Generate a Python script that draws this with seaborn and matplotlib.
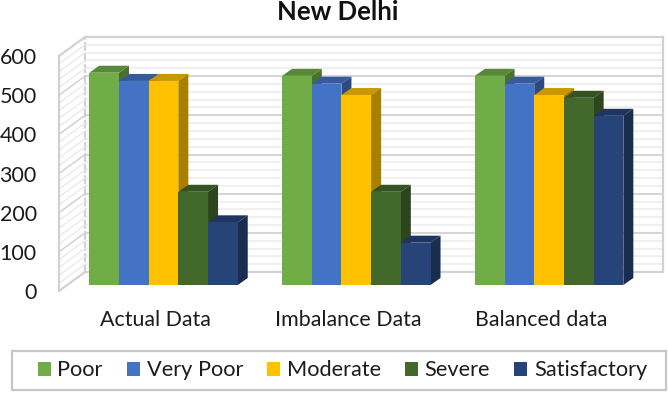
import matplotlib
matplotlib.use('Agg')
import matplotlib.pyplot as plt
import matplotlib.colors as mcolors
from matplotlib.patches import Polygon, Rectangle
from matplotlib.lines import Line2D
from matplotlib.transforms import IdentityTransform, ScaledTranslation
from matplotlib.ticker import MultipleLocator
import pandas as pd
import seaborn as sns

# Data
datasets = ['Actual Data', 'Imbalance Data', 'Balanced data']
classes = ['Poor', 'Very Poor', 'Moderate', 'Severe', 'Satisfactory']
poor = [542, 534, 534]
very_poor = [521, 514, 514]
moderate = [521, 485, 485]
severe = [238, 238, 478]
satisfactory = [160, 108, 432]
colors = ['#70AD47', '#4472C4', '#FFC000', '#43682B', '#264478']

rows = []
for name, vals in zip(classes, [poor, very_poor, moderate, severe, satisfactory]):
    for d, v in zip(datasets, vals):
        rows.append({'dataset': d, 'aqi': name, 'count': v})
df = pd.DataFrame(rows)

sns.set_theme(style='white')
plt.rcParams['font.family'] = ['Lato', 'DejaVu Sans']
text_col = '#1c1c1c'
wall_col = '#d2d2d2'

W, H = 668, 395
fig = plt.figure(figsize=(W / 100, H / 100), dpi=100, facecolor='white')


def px_axes(left, top, right, bottom):
    return fig.add_axes([left / W, 1 - bottom / H, (right - left) / W, (bottom - top) / H])


# back wall of the fake 3D box
ax_back = px_axes(85, 37, 663, 272)
ax_back.set_xlim(0, 1)
ax_back.set_ylim(0, 600)
ax_back.yaxis.set_major_locator(MultipleLocator(100))
ax_back.yaxis.set_minor_locator(MultipleLocator(20))
ax_back.grid(True, which='major', axis='y', color=wall_col, lw=1.3)
ax_back.grid(True, which='minor', axis='y', color='#efefef', lw=1.3)
ax_back.set_axisbelow(True)
ax_back.tick_params(which='both', left=False, bottom=False, labelleft=False, labelbottom=False)
for s in ax_back.spines.values():
    s.set_color(wall_col)
    s.set_linewidth(1.6)
ax_back.spines['left'].set_linestyle((0, (3, 2)))

# left wall goes down and to the left of the back wall
wall_dx, wall_dy = 26, 19
for v in range(0, 601, 20):
    x0, y0 = ax_back.transData.transform((0, v))
    major = v % 100 == 0
    ends = v in (0, 600)
    fig.add_artist(Line2D([x0, x0 - wall_dx], [y0, y0 - wall_dy], transform=IdentityTransform(),
                          color=wall_col if major else '#ececec', lw=1.6 if ends else 1.1))
x0, y_low = ax_back.transData.transform((0, 0))
_, y_high = ax_back.transData.transform((0, 600))
fig.add_artist(Line2D([x0 - wall_dx, x0 - wall_dx], [y_low - wall_dy, y_high - wall_dy],
                      transform=IdentityTransform(), color=wall_col, lw=1.6))

# axis with the tick labels sits on the front edge of the left wall
ax_wall = px_axes(59, 56, 60, 291)
ax_wall.set_ylim(0, 600)
ax_wall.set_xticks([])
ax_wall.set_yticks(range(0, 601, 100))
ax_wall.tick_params(axis='y', length=0, pad=16, labelsize=15.5, labelcolor=text_col)
ax_wall.patch.set_alpha(0)
sns.despine(ax=ax_wall, left=True, bottom=True)

# the bars
ax = px_axes(67.1, 50, 645.5, 285)
ax.patch.set_alpha(0)
sns.barplot(data=df, x='dataset', y='count', hue='aqi', order=datasets, hue_order=classes,
            palette=colors, width=0.77, saturation=1, gap=0, ax=ax, linewidth=0)
ax.set_xlim(-0.5, 2.5)
ax.set_ylim(0, 600)
ax.set_xlabel('')
ax.set_ylabel('')
ax.set_yticks([])
ax.tick_params(axis='x', length=0, pad=18, labelsize=15.4, labelcolor=text_col)
for lab in ax.get_xticklabels():
    lab.set_transform(lab.get_transform() + ScaledTranslation(-8 / 100, 0, fig.dpi_scale_trans))
sns.despine(ax=ax, left=True, bottom=True)

# extrude each bar: top and side faces, left to right so neighbours overlap properly
depth_x, depth_y = 10, 7
bars = sorted([p for p in ax.patches if p.get_height() > 0], key=lambda p: p.get_x())
to_data = ax.transData.inverted()
dx_data, dy_data = to_data.transform((depth_x, depth_y)) - to_data.transform((0, 0))
for i, bar in enumerate(bars):
    x, w, h = bar.get_x(), bar.get_width(), bar.get_height()
    rgb = mcolors.to_rgb(bar.get_facecolor())
    top_col = tuple(c * 0.79 for c in rgb)
    side_col = tuple(c * 0.66 for c in rgb)
    z = 3 + i * 0.1
    top = Polygon([(x, h), (x + dx_data, h + dy_data), (x + w + dx_data, h + dy_data), (x + w, h)],
                  facecolor=top_col, edgecolor='none', zorder=z, clip_on=False)
    side = Polygon([(x + w, 0), (x + w + dx_data, dy_data), (x + w + dx_data, h + dy_data), (x + w, h)],
                   facecolor=side_col, edgecolor='none', zorder=z, clip_on=False)
    ax.add_patch(top)
    ax.add_patch(side)
    bar.set_zorder(z + 0.05)

# legend: frame drawn separately since its side padding is wider than its height allows
fig.add_artist(Rectangle((12 / W, 1 - 390 / H), 654 / W, 39 / H, transform=fig.transFigure,
                         facecolor='white', edgecolor='#c6c6c6', lw=1.6, zorder=-1))
sns.move_legend(ax, 'center', bbox_to_anchor=(342.5 / W, 1 - 370.5 / H), bbox_transform=fig.transFigure,
                ncol=5, title=None, frameon=False, fontsize=15.7,
                handlelength=0.6, handleheight=0.6, handletextpad=0.3, columnspacing=1.11,
                borderpad=0, labelcolor=text_col)

fig.text(338 / W, 1 - 12 / H, 'New Delhi', ha='center', va='center', fontsize=18.5,
         fontweight='bold', color='#111111')

fig.savefig('out.png', dpi=100, facecolor='white')
